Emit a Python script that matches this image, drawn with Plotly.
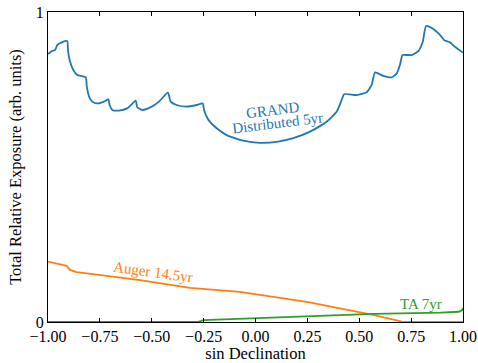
import plotly.graph_objects as go

grand_x = [-1.0, -0.995, -0.979, -0.966, -0.955, -0.931, -0.907, -0.904, -0.894, -0.878, -0.859, -0.818,
           -0.813, -0.802, -0.787, -0.762, -0.730, -0.709, -0.703, -0.690, -0.658, -0.618, -0.577,
           -0.570, -0.546, -0.505, -0.465, -0.422, -0.409, -0.380, -0.332, -0.283, -0.254,
           -0.248, -0.227, -0.187, -0.139, -0.059, 0.022, 0.102, 0.182, 0.263, 0.343, 0.391, 0.415, 0.427,
           0.488, 0.536, 0.560, 0.576, 0.616, 0.656, 0.681, 0.696, 0.709, 0.753, 0.785, 0.806, 0.822,
           0.857, 0.889, 0.910, 0.937, 0.961, 0.977, 1.0]
grand_y = [0.865, 0.867, 0.875, 0.877, 0.894, 0.903, 0.906, 0.877, 0.840, 0.813, 0.797, 0.789,
           0.759, 0.727, 0.711, 0.705, 0.711, 0.718, 0.700, 0.684, 0.682, 0.689, 0.714,
           0.693, 0.684, 0.693, 0.711, 0.740, 0.711, 0.700, 0.695, 0.700, 0.705,
           0.684, 0.652, 0.625, 0.603, 0.585, 0.578, 0.581, 0.593, 0.614, 0.646, 0.678, 0.716, 0.735,
           0.732, 0.741, 0.765, 0.805, 0.794, 0.789, 0.802, 0.829, 0.861, 0.861, 0.874, 0.904, 0.955,
           0.945, 0.926, 0.909, 0.902, 0.888, 0.880, 0.869]

auger_x = [-1.0, -0.91, -0.894, -0.862, -0.717, -0.557, -0.316, -0.075, 0.247, 0.407, 0.566, 0.696, 0.71, 1.0]
auger_y = [0.195, 0.181, 0.168, 0.161, 0.149, 0.135, 0.110, 0.097, 0.065, 0.045, 0.023, 0.003, 0.0, 0.0]

ta_x = [-1.0, -0.28, -0.25, -0.075, 0.25, 0.57, 0.89, 0.98, 0.995, 1.0]
ta_y = [0.0, 0.0, 0.006, 0.010, 0.017, 0.026, 0.030, 0.033, 0.038, 0.045]

x_ticks = [-1.0, -0.75, -0.5, -0.25, 0.0, 0.25, 0.5, 0.75, 1.0]
y_ticks = [0, 1]

BLUE, ORANGE, GREEN = "#1f77b4", "#ff7f0e", "#2ca02c"
FONT = "Liberation Serif"

fig = go.Figure()
fig.add_trace(go.Scatter(x=grand_x, y=grand_y, mode="lines",
                         line=dict(color=BLUE, width=1.8, shape="spline", smoothing=0.5)))
fig.add_trace(go.Scatter(x=auger_x, y=auger_y, mode="lines", line=dict(color=ORANGE, width=1.8)))
fig.add_trace(go.Scatter(x=ta_x, y=ta_y, mode="lines", line=dict(color=GREEN, width=1.8)))

fig.add_annotation(x=0.084, y=0.684, text="GRAND", showarrow=False, textangle=-7,
                   font=dict(family=FONT, size=15, color=BLUE))
fig.add_annotation(x=0.104, y=0.642, text="Distributed 5yr", showarrow=False, textangle=-7,
                   font=dict(family=FONT, size=15, color=BLUE))
fig.add_annotation(x=-0.494, y=0.162, text="Auger 14.5yr", showarrow=False, textangle=8,
                   font=dict(family=FONT, size=15, color=ORANGE))
fig.add_annotation(x=0.797, y=0.057, text="TA 7yr", showarrow=False,
                   font=dict(family=FONT, size=15, color=GREEN))

axis_common = dict(showline=True, linecolor="black", linewidth=1, mirror="ticks", ticks="inside",
                   ticklen=4, tickcolor="black", showgrid=False, zeroline=False, automargin=False,
                   tickfont=dict(family=FONT, size=16, color="black"))
fig.update_xaxes(range=[-1, 1], tickvals=x_ticks, tickformat=".2f",
                 title=dict(text="sin Declination", font=dict(family=FONT, size=16.5, color="black"), standoff=4),
                 **axis_common)
fig.update_yaxes(range=[0, 1], tickvals=y_ticks,
                 title=dict(text="Total Relative Exposure (arb. units)", font=dict(family=FONT, size=16.5, color="black"), standoff=10),
                 **axis_common)
fig.update_layout(width=478, height=363, margin=dict(l=48, r=15, t=12, b=41),
                  plot_bgcolor="white", paper_bgcolor="white", showlegend=False)
fig.write_html("out.html", config={"displayModeBar": False},
               post_script="document.body.style.margin='0';document.body.style.overflow='hidden';")
